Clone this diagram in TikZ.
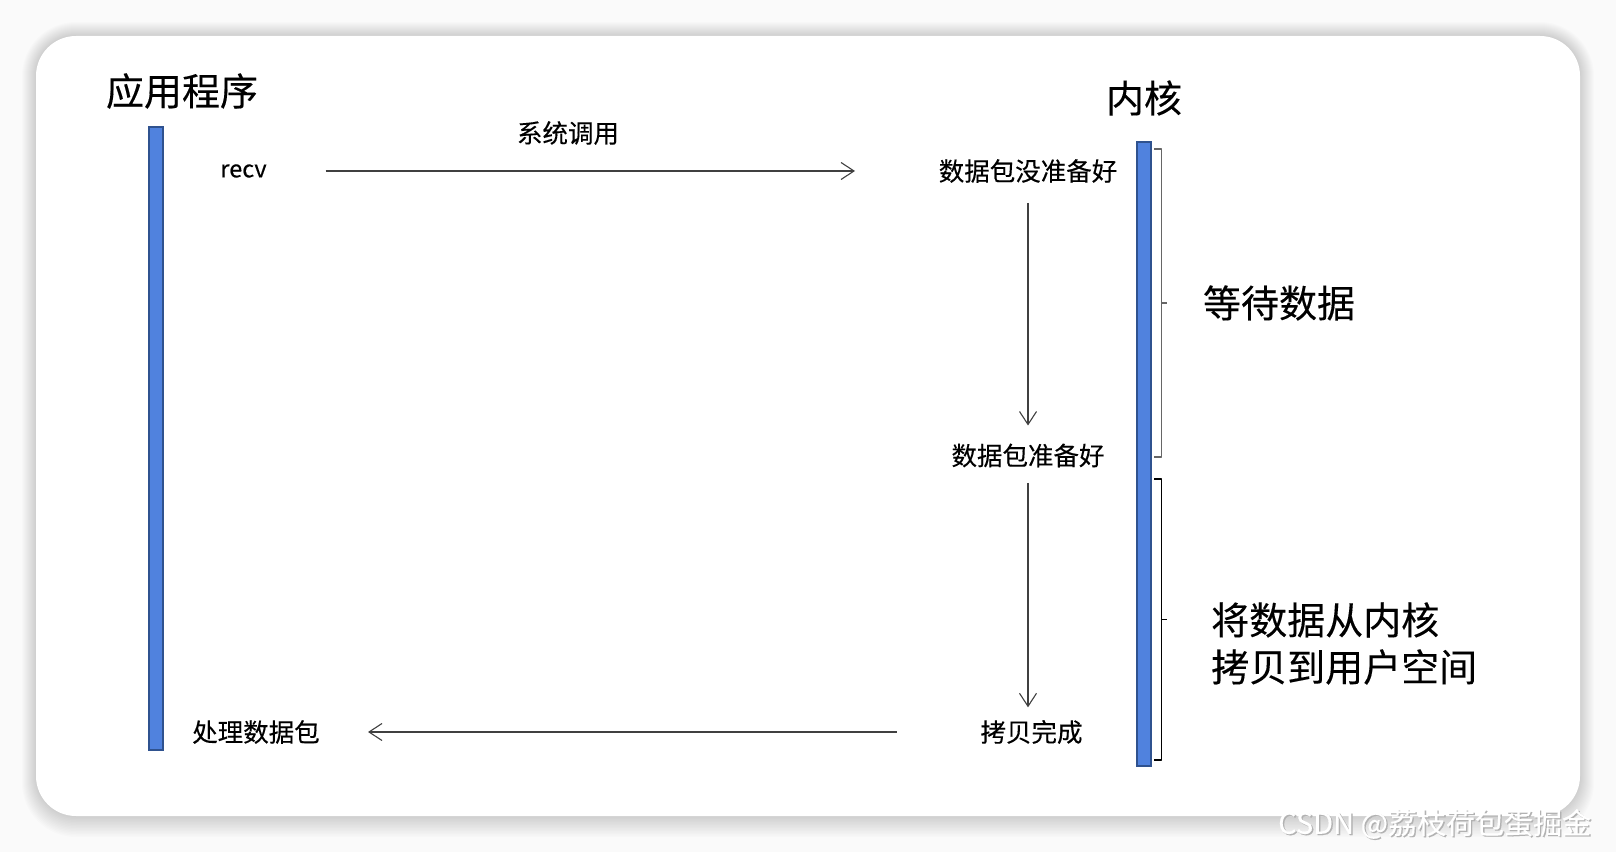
\documentclass[tikz,border=0pt]{standalone}
\usepackage{fontspec}
\setmainfont{Noto Sans CJK SC}[FakeBold=0.25]
\usetikzlibrary{arrows.meta,calc}
\definecolor{barfill}{HTML}{5082DE}
\definecolor{barline}{HTML}{2F528F}
\definecolor{bggray}{HTML}{FAFAFA}
\tikzset{
  bigtxt/.style={font=\fontsize{38}{47}\selectfont, inner sep=0pt},
  smalltxt/.style={font=\fontsize{25.5}{30}\selectfont, inner sep=0pt},
  bar/.style={fill=barfill, draw=barline, line width=2pt},
  arr/.style={draw=black!75, line width=1.3pt, -{Straight Barb[length=13pt,width=17pt,line width=1.1pt]}},
  bracket/.style={line width=1.6pt, line join=round},
}
\begin{document}
\begin{tikzpicture}[x=1pt,y=1pt]
\useasboundingbox (0,0) rectangle (1616,852);
\fill[bggray] (0,0) rectangle (1616,852);
% shadow
\foreach \i in {1,...,14}{
  \fill[black, opacity=0.013, rounded corners=40+\i] (36-\i,36-1.5*\i) rectangle (1580+\i,816+1.0*\i);
}
\fill[white, rounded corners=40] (36,36) rectangle (1580,816);

% bars
\node[bar, minimum width=14pt, minimum height=623pt, inner sep=0pt, anchor=north] (appbar) at (155.5,726.3) {};
\node[bar, minimum width=14pt, minimum height=623pt, inner sep=0pt, anchor=north] (kbar) at (1144,710.5) {};

% titles
\node[bigtxt] (app) at (182,761) {应用程序};
\node[bigtxt] (kernel) at (1144,754) {内核};

% labels
\node[smalltxt] (sys) at (568,719) {系统调用};
\node[font=\fontsize{23.5}{28}\selectfont, inner sep=0pt] (recv) at (243.5,681) {recv};
\node[smalltxt] (notready) at (1028,681) {数据包没准备好};
\node[smalltxt] (ready) at (1028,396.5) {数据包准备好};
\node[smalltxt] (copied) at (1031.5,120) {拷贝完成};
\node[smalltxt] (proc) at (256,120) {处理数据包};

\node[bigtxt] (wait) at (1279,549) {等待数据};
\node[bigtxt, align=left, anchor=west] (copy) at (1211,208.5) {将数据从内核\\拷贝到用户空间};

% connectors
\draw[arr, shorten <=82pt, shorten >=173pt] (recv.center) -- (notready.center);
\draw[arr, shorten <=32pt, shorten >=30pt] (notready.center) -- (ready.center);
\draw[arr, shorten <=27.5pt, shorten >=24.7pt] (ready.center) -- (ready.center |- copied.center);
\draw[arr, shorten <=134.6pt, shorten >=112pt] (copied.center) -- (proc.center);

% brackets
\coordinate (b1t) at (1154,703);
\coordinate (b1b) at (1154,395);
\draw[bracket, draw=black!60] (b1t) -- ++(7.5,0) -- ($(b1b)+(7.5,0)$) -- (b1b);
\draw[bracket, draw=black!60] (1161.5,549) -- ++(5,0);
\draw[bracket] (1154,373) -- (1161.5,373) -- (1161.5,92) -- (1154,92);
\draw[bracket] (1161.5,232.5) -- ++(5,0);

% watermark
\node[font=\fontsize{29}{32}\selectfont, text=black!30, inner sep=0pt, anchor=west] at (1279.4,26.8) {CSDN @荔枝荷包蛋掘金};
\node[font=\fontsize{29}{32}\selectfont, text=white, inner sep=0pt, anchor=west] (wm) at (1278,28) {CSDN @荔枝荷包蛋掘金};
\end{tikzpicture}
\end{document}
